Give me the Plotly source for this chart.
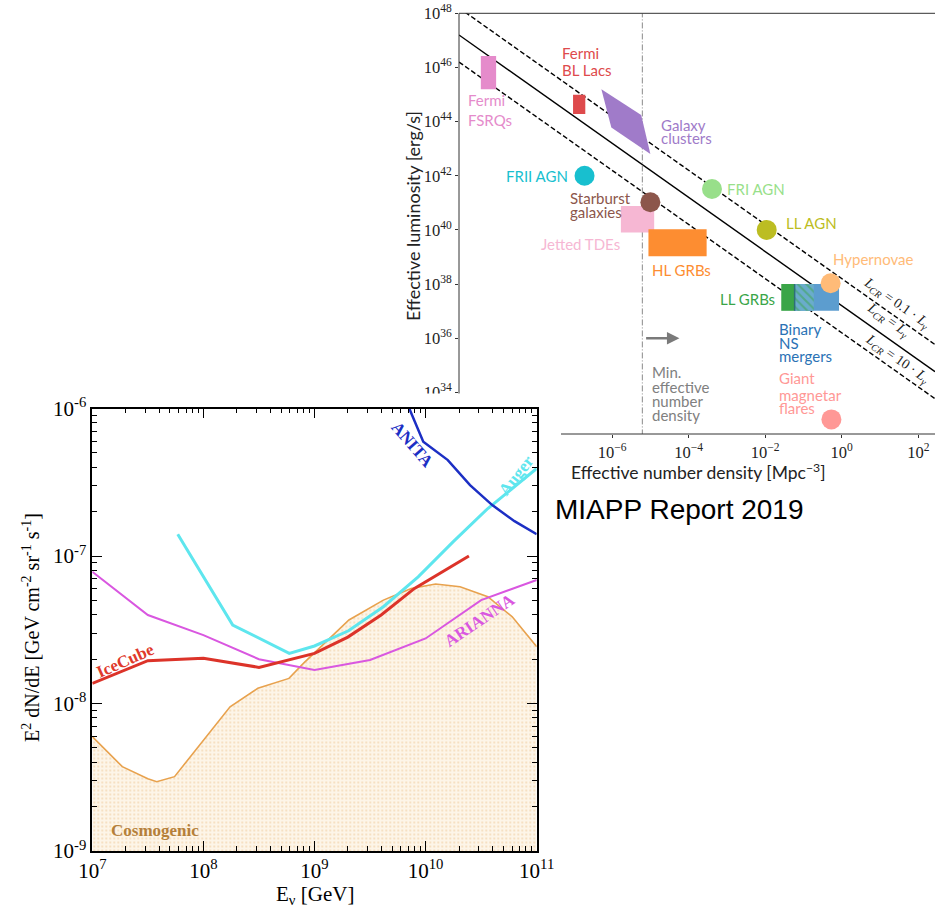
import plotly.graph_objects as go

W, H = 935, 911

def pxx(x):
    return x / W

def pxy(y):
    return 1 - y / H

# ================= TOP CHART DATA (log10 values) =================
# diagonal lines: log10(L * n)
diag_consts = [38.2, 37.2, 36.2]
diag_dash = ["5px,2.5px", "solid", "5px,2.5px"]
diag_text = ["<i>L</i><sub><i>CR</i></sub> = 0.1 · <i>L</i><sub><i>γ</i></sub>",
             "<i>L</i><sub><i>CR</i></sub> = <i>L</i><sub><i>γ</i></sub>",
             "<i>L</i><sub><i>CR</i></sub> = 10 · <i>L</i><sub><i>γ</i></sub>"]
diag_text_n = [1.435, 1.216, 1.451]
diag_text_L = [37.29, 36.67, 35.21]

min_density = -5.21  # log10 n of vertical dash-dot line

# rectangles
rect_names = ["Fermi FSRQs", "Fermi BL Lacs", "Jetted TDEs", "HL GRBs", "LL GRBs", "Binary NS mergers"]
rect_n0 = [-9.43, -7.02, -5.77, -5.05, -1.58, -1.23]
rect_n1 = [-9.03, -6.70, -4.90, -3.53, -1.23, -0.07]
rect_L0 = [45.19, 44.28, 39.90, 39.03, 37.01, 37.01]
rect_L1 = [46.42, 44.99, 40.88, 40.02, 38.00, 38.00]
rect_colors = ["#e58bcb", "#de4a4c", "#f6b7d3", "#fd8d31", "#3aa548", "#5c9dcf"]

# overlap (hatched) region of LL GRBs / BNS mergers
hatch_n = [-1.23, -0.73]
hatch_L = [37.01, 38.00]

# galaxy clusters parallelogram
gc_n = [-6.28, -5.24, -5.00, -6.02]
gc_L = [45.19, 44.24, 42.80, 43.78]
gc_color = "#a07bc9"

# circles
circ_names = ["FRII AGN", "Starburst galaxies", "FRI AGN", "LL AGN", "Hypernovae", "Giant magnetar flares"]
circ_n = [-6.72, -5.00, -3.39, -1.96, -0.29, -0.27]
circ_L = [42.00, 41.02, 41.51, 40.00, 38.03, 33.00]
circ_colors = ["#18bfcf", "#8c564b", "#98df8a", "#bcbd22", "#ffbb78", "#ff9896"]

# text labels
label_text = ["Fermi", "BL Lacs", "Fermi", "FSRQs", "Galaxy", "clusters", "FRII AGN",
              "Starburst", "galaxies", "Jetted TDEs", "HL GRBs", "FRI AGN", "LL AGN",
              "Hypernovae", "LL GRBs", "Binary", "NS", "mergers", "Giant", "magnetar", "flares",
              "Min.", "effective", "number", "density"]
label_n = [-7.37, -7.37, -9.82, -9.82, -4.78, -4.78, -7.10,
           -7.14, -7.14, -5.73, -5.00, -3.05, -1.51,
           -0.29, -1.70, -1.68, -1.68, -1.68, -1.68, -1.68, -1.68,
           -5.00, -5.00, -5.00, -5.00]
label_L = [46.52, 45.90, 44.80, 44.06, 43.87, 43.38, 42.00,
           41.17, 40.67, 39.48, 38.52, 41.51, 40.24,
           38.91, 37.45, 36.33, 35.81, 35.34, 34.52, 33.90, 33.41,
           34.76, 34.21, 33.69, 33.16]
label_anchor = ["left", "left", "left", "left", "left", "left", "right",
                "left", "left", "right", "left", "left", "left",
                "left", "right", "left", "left", "left", "left", "left", "left",
                "left", "left", "left", "left"]
label_color = ["#de4a4c", "#de4a4c", "#e58bcb", "#e58bcb", "#a07bc9", "#a07bc9", "#18bfcf",
               "#8c564b", "#8c564b", "#f6b7d3", "#fd8d31", "#98df8a", "#bcbd22",
               "#ffbb78", "#3aa548", "#2a72b5", "#2a72b5", "#2a72b5", "#ff9896", "#ff9896", "#ff9896",
               "#808080", "#808080", "#808080", "#808080"]

arrow_n = [-5.15, -4.24]
arrow_L = 36.0

top_xticks = [-6, -4, -2, 0, 2]
top_yticks = [34, 36, 38, 40, 42, 44, 46, 48]

# ================= BOTTOM CHART DATA (log10 values) =================
anita_E = [9.853, 9.979, 10.2, 10.4, 10.6, 10.8, 11.0]
anita_F = [-6.0, -6.225, -6.35, -6.52, -6.655, -6.764, -6.852]

auger_E = [7.769, 8.264, 8.773, 9.0, 9.306, 9.62, 9.933, 10.247, 10.56, 10.78, 11.0]
auger_F = [-6.852, -7.468, -7.66, -7.61, -7.507, -7.344, -7.141, -6.904, -6.678, -6.54, -6.407]

icecube_E = [7.0, 7.5, 8.0, 8.5, 9.0, 9.3, 9.6, 9.9, 10.39]
icecube_F = [-7.864, -7.71, -7.694, -7.755, -7.66, -7.55, -7.40, -7.22, -7.0]

arianna_E = [7.0, 7.5, 8.0, 8.5, 9.0, 9.5, 10.0, 10.5, 11.0]
arianna_F = [-7.107, -7.40, -7.536, -7.70, -7.773, -7.705, -7.559, -7.299, -7.163]

cosmo_E = [7.0, 7.27, 7.5, 7.58, 7.74, 7.93, 8.24, 8.49, 8.77, 8.9, 9.15, 9.31, 9.62, 9.87,
           10.09, 10.31, 10.56, 10.78, 11.0]
cosmo_F = [-8.225, -8.428, -8.51, -8.53, -8.496, -8.315, -8.022, -7.897, -7.83, -7.728, -7.547,
           -7.434, -7.299, -7.22, -7.19, -7.208, -7.276, -7.412, -7.615]

bot_labels = ["ANITA", "Auger", "IceCube", "ARIANNA", "Cosmogenic"]
bot_label_E = [9.878, 10.813, 7.302, 10.482, 7.564]
bot_label_F = [-6.247, -6.451, -7.71, -7.434, -8.862]
bot_label_angle = [49, -52, -24, -34, 0]
bot_label_color = ["#1c2fc4", "#5ee6ee", "#e0392b", "#d957e0", "#b5803a"]

bot_xticks = [7, 8, 9, 10, 11]
bot_yticks = [-9, -8, -7, -6]

# ================= FIGURE =================
fig = go.Figure()

def p10(v):
    return [10.0 ** float(x) for x in v]

T = dict(xaxis="x2", yaxis="y2", showlegend=False, hoverinfo="skip")
B = dict(xaxis="x", yaxis="y", showlegend=False, hoverinfo="skip")

# --- bottom chart ---
cx = cosmo_E + [11.0, 7.0]
cy = cosmo_F + [-9.0, -9.0]
fig.add_trace(go.Scatter(x=p10(cx), y=p10(cy), mode="lines", fill="toself",
                         fillcolor="#fdf5e8",
                         fillpattern=dict(shape=".", fgcolor="#e9c08a", size=4, solidity=0.22,
                                          fillmode="overlay"),
                         line=dict(color="rgba(0,0,0,0)", width=0), **B))
fig.add_trace(go.Scatter(x=p10(cosmo_E), y=p10(cosmo_F), mode="lines",
                         line=dict(color="#e8a24e", width=1.6), **B))
fig.add_trace(go.Scatter(x=p10(arianna_E), y=p10(arianna_F), mode="lines",
                         line=dict(color="#d957e0", width=2), **B))
fig.add_trace(go.Scatter(x=p10(icecube_E), y=p10(icecube_F), mode="lines",
                         line=dict(color="#dc3329", width=3), **B))
fig.add_trace(go.Scatter(x=p10(auger_E), y=p10(auger_F), mode="lines",
                         line=dict(color="#5ee6ee", width=3), **B))
fig.add_trace(go.Scatter(x=p10(anita_E), y=p10(anita_F), mode="lines",
                         line=dict(color="#1c2fc4", width=2.5), **B))

# --- top chart ---
xr_top = [-10, 2.437]
for c, d in zip(diag_consts, diag_dash):
    fig.add_trace(go.Scatter(x=p10(xr_top), y=p10([c - xr_top[0], c - xr_top[1]]), mode="lines",
                             line=dict(color="black", width=1.4, dash=d), **T))

fig.add_trace(go.Scatter(x=p10([min_density, min_density]), y=p10([32, 48]), mode="lines",
                         line=dict(color="#8a8a8a", width=1, dash="6px,2px,1px,2px"), **T))

for n0, n1, L0, L1, col in zip(rect_n0, rect_n1, rect_L0, rect_L1, rect_colors):
    fig.add_trace(go.Scatter(x=p10([n0, n1, n1, n0, n0]), y=p10([L0, L0, L1, L1, L0]),
                             mode="lines", fill="toself", fillcolor=col,
                             line=dict(width=0, color=col), **T))

fig.add_trace(go.Scatter(x=p10([hatch_n[0], hatch_n[1], hatch_n[1], hatch_n[0], hatch_n[0]]),
                         y=p10([hatch_L[0], hatch_L[0], hatch_L[1], hatch_L[1], hatch_L[0]]),
                         mode="lines", fill="toself", fillcolor="#62a7b9",
                         fillpattern=dict(shape="\\", fgcolor="#3aa548", bgcolor="#6aaccc",
                                          size=6, solidity=0.35),
                         line=dict(width=0, color="#3a8a8a"), **T))
fig.add_trace(go.Scatter(x=p10([hatch_n[0], hatch_n[0]]), y=p10(hatch_L), mode="lines",
                         line=dict(width=1.5, color="#2e6f78"), **T))

fig.add_trace(go.Scatter(x=p10(gc_n + [gc_n[0]]), y=p10(gc_L + [gc_L[0]]), mode="lines",
                         fill="toself", fillcolor=gc_color, line=dict(width=0, color=gc_color), **T))

fig.add_trace(go.Scatter(x=p10(circ_n), y=p10(circ_L), mode="markers",
                         marker=dict(size=20, color=circ_colors, line=dict(width=0)), **T))

annotations = []
for t, n, L, a, col in zip(label_text, label_n, label_L, label_anchor, label_color):
    annotations.append(dict(text=t, x=n, y=L, xref="x2", yref="y2", showarrow=False,
                            xanchor=a, yanchor="middle",
                            font=dict(family="Lato", size=15, color=col)))
for t, n, L in zip(diag_text, diag_text_n, diag_text_L):
    annotations.append(dict(text=t, x=n, y=L, xref="x2", yref="y2", showarrow=False,
                            xanchor="center", yanchor="middle",
                            textangle=35, font=dict(family="Liberation Serif", size=14, color="#222")))
annotations.append(dict(x=arrow_n[1], y=arrow_L, ax=arrow_n[0], ay=arrow_L, xref="x2", yref="y2",
                        axref="x2", ayref="y2", showarrow=True, arrowhead=2, arrowsize=1,
                        arrowwidth=2.5, arrowcolor="#7a7a7a", text=""))

for t, e, f, ang, col in zip(bot_labels, bot_label_E, bot_label_F, bot_label_angle, bot_label_color):
    annotations.append(dict(text="<b>" + t + "</b>", x=e, y=f, xref="x", yref="y", showarrow=False,
                            xanchor="center", yanchor="middle",
                            textangle=ang, font=dict(family="Liberation Serif", size=17, color=col)))

def paper_text(text, x, y, size, family, angle=0, color="black"):
    annotations.append(dict(text=text, x=pxx(x), y=pxy(y), xref="paper", yref="paper",
                            showarrow=False, xanchor="center", yanchor="middle", textangle=angle,
                            font=dict(family=family, size=size, color=color)))

paper_text("Effective luminosity [erg/s]", 413, 216, 18, "Lato", -90, "#222")
paper_text("Effective number density [Mpc<sup>−3</sup>]", 698, 471, 17.5, "Lato", 0, "#222")
paper_text("MIAPP Report 2019", 679, 509, 28, "Liberation Sans")
paper_text("E<sup>2</sup> dN/dE [GeV cm<sup>-2</sup> sr<sup>-1</sup> s<sup>-1</sup>]", 31, 628, 20,
           "Liberation Serif", -90)
paper_text("E<sub>ν</sub> [GeV]", 315, 895, 21, "Liberation Serif")

shapes = [
    dict(type="line", xref="paper", yref="paper", x0=pxx(459), x1=pxx(459), y0=pxy(13.3), y1=pxy(394),
         line=dict(color="#333", width=1)),
    dict(type="line", xref="paper", yref="paper", x0=pxx(459), x1=1, y0=pxy(13.3), y1=pxy(13.3),
         line=dict(color="#333", width=1)),
    dict(type="line", xref="paper", yref="paper", x0=pxx(561), x1=1, y0=pxy(434), y1=pxy(434),
         line=dict(color="#333", width=1)),
    dict(type="rect", xref="paper", yref="paper", x0=pxx(380), x1=pxx(470), y0=pxy(406), y1=pxy(393.5),
         fillcolor="white", line=dict(width=0), layer="above"),
]

minor_x = [k * 10.0 ** e for e in range(7, 11) for k in range(2, 10)]
minor_y = [k * 10.0 ** e for e in range(-9, -6) for k in range(2, 10)]

fig.update_layout(
    width=W, height=H, margin=dict(l=0, r=0, t=0, b=0, pad=0, autoexpand=False),
    paper_bgcolor="white", plot_bgcolor="rgba(0,0,0,0)",
    showlegend=False,
    annotations=annotations, shapes=shapes,
    xaxis=dict(type="log", range=[7, 11], domain=[pxx(92.3), pxx(536.7)], anchor="y", automargin=False,
               showgrid=False, zeroline=False, showline=True, linecolor="black", linewidth=1.5,
               mirror="allticks", ticks="inside", ticklen=10, tickwidth=1.2, tickcolor="black",
               tickvals=p10(bot_xticks), ticktext=["10<sup>%d</sup>" % v for v in bot_xticks],
               tickfont=dict(family="Liberation Serif", size=21, color="black"),
               minor=dict(tickvals=minor_x, ticks="inside", ticklen=5, tickwidth=1, tickcolor="black",
                          showgrid=False)),
    yaxis=dict(type="log", range=[-9, -6], domain=[pxy(851), pxy(408.5)], anchor="x", automargin=False,
               showgrid=False, zeroline=False, showline=True, linecolor="black", linewidth=1.5,
               mirror="allticks", ticks="inside", ticklen=10, tickwidth=1.2, tickcolor="black",
               tickvals=p10(bot_yticks), ticktext=["10<sup>%d</sup>" % v for v in bot_yticks],
               tickfont=dict(family="Liberation Serif", size=21, color="black"),
               minor=dict(tickvals=minor_y, ticks="inside", ticklen=5, tickwidth=1, tickcolor="black",
                          showgrid=False)),
    xaxis2=dict(type="log", range=xr_top, domain=[pxx(459), 1.0], anchor="y2", automargin=False,
                showgrid=False, zeroline=False, showline=False,
                ticks="outside", ticklen=3, tickcolor="#333",
                tickvals=p10(top_xticks),
                ticktext=["10<sup>%s</sup>" % str(v).replace("-", "−") for v in top_xticks],
                tickfont=dict(family="Liberation Serif", size=16.5, color="#222")),
    yaxis2=dict(type="log", range=[32.46, 48], domain=[pxy(434), pxy(13.3)], anchor="x2", automargin=False,
                showgrid=False, zeroline=False, showline=False,
                ticks="outside", ticklen=3, tickcolor="#333",
                tickvals=p10(top_yticks), ticktext=["10<sup>%d</sup>" % v for v in top_yticks],
                tickfont=dict(family="Liberation Serif", size=16.5, color="#222")),
)

fig.write_html("out.html")
